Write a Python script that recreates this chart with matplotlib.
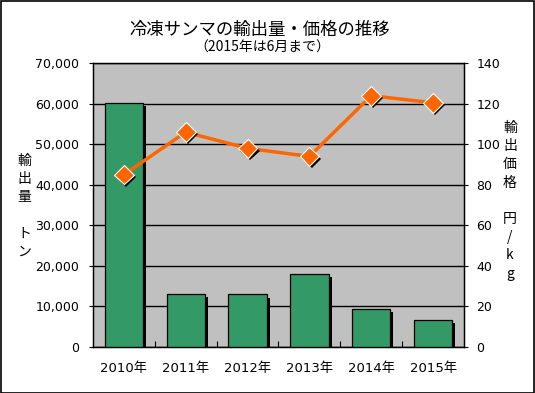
import matplotlib
matplotlib.use('Agg')
import matplotlib.pyplot as plt
import matplotlib.patheffects as pe
from matplotlib.patches import Rectangle
import numpy as np

plt.rcParams['font.family'] = ['DejaVu Sans', 'Noto Sans CJK JP']

# data
years = ['2010年', '2011年', '2012年', '2013年', '2014年', '2015年']
volume = [60250, 13100, 12900, 18000, 9400, 6700]   # 輸出量 (トン)
price = [85, 106, 98, 94, 124, 120.5]              # 輸出価格 (円/kg)

bar_color = '#339966'
line_color = '#FF6600'

fig = plt.figure(figsize=(5.35, 3.93), dpi=100)
fig.patch.set_facecolor('white')
ax = fig.add_axes([0.1738, 0.1178, 0.6935, 0.7211])
ax.set_facecolor('#C0C0C0')

x = np.arange(len(years))
shadow = [pe.SimplePatchShadow(offset=(2.2, -2.2), shadow_rgbFace='black', alpha=1.0), pe.Normal()]
ax.bar(x, volume, width=0.62, color=bar_color, edgecolor='black', linewidth=0.9,
       path_effects=shadow, zorder=3)

ax.set_xlim(-0.5, len(years) - 0.5)
ax.set_ylim(0, 70000)
ax.set_yticks(np.arange(0, 70001, 10000))
ax.set_yticklabels([f'{v:,}' for v in range(0, 70001, 10000)])
ax.yaxis.grid(True, color='black', linewidth=1)
ax.set_axisbelow(True)
ax.set_xticks(x)
ax.set_xticklabels(years)
ax.set_xticks(np.arange(0.5, len(years) - 0.5), minor=True)
ax.tick_params(axis='x', which='major', length=0, pad=11, labelsize=9.5)
ax.tick_params(axis='x', which='minor', direction='in', length=4, width=0.8)
ax.tick_params(axis='y', direction='out', length=3, pad=7, labelsize=9)
for s in ax.spines.values():
    s.set_linewidth(1)
    s.set_color('black')

ax2 = ax.twinx()
ax2.set_ylim(0, 140)
ax2.set_yticks(np.arange(0, 141, 20))
ax2.tick_params(axis='y', direction='out', length=3, pad=6, labelsize=9)
ax2.plot(x, price, color=line_color, linewidth=2.5, zorder=4)
ax2.plot(x, price, linestyle='none', marker='D', markersize=10, markerfacecolor=line_color,
         markeredgecolor='white', markeredgewidth=0.8, zorder=5,
         path_effects=[pe.SimplePatchShadow(offset=(1.6, -1.6), shadow_rgbFace='black', alpha=1.0), pe.Normal()])

# titles
fig.text(0.486, 1 - 30 / 393, '冷凍サンマの輸出量・価格の推移', ha='center', va='center', fontsize=12.5,
         family=['Noto Sans CJK JP', 'DejaVu Sans'])
fig.text(0.49, 1 - 48 / 393, '（2015年は6月まで）', ha='center', va='center', fontsize=10,
         family=['Noto Sans CJK JP', 'DejaVu Sans'])

# vertical axis labels, one character per row
left_label = ['輸', '出', '量', '', 'ト', 'ン']
for i, ch in enumerate(left_label):
    fig.text(24 / 535, 1 - (161 + i * 18.2) / 393, ch, ha='center', va='center', fontsize=10,
             family=['Noto Sans CJK JP', 'DejaVu Sans'])
right_label = ['輸', '出', '価', '格', '', '円', '/', 'k', 'g']
for i, ch in enumerate(right_label):
    fig.text(510 / 535, 1 - (128 + i * 18.2) / 393, ch, ha='center', va='center', fontsize=10,
             family=['Noto Sans CJK JP', 'DejaVu Sans'])

fig.add_artist(Rectangle((0.001, 0.001), 0.997, 0.997, transform=fig.transFigure,
                         fill=False, edgecolor='black', linewidth=1.2))

fig.savefig('out.png', dpi=100)
